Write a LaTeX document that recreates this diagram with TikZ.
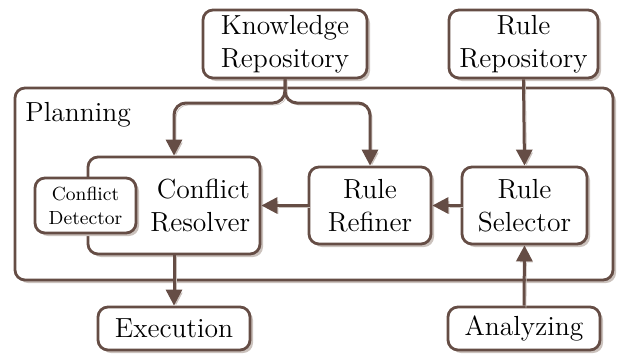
\documentclass[tikz,border=0pt]{standalone}
\usepackage{fontspec}
\setmainfont{Latin Modern Roman}
\usetikzlibrary{arrows.meta,shadows}
\definecolor{boxline}{HTML}{654D45}
\definecolor{shadowcolor}{HTML}{CBC2BD}

\begin{document}
\begin{tikzpicture}[x=0.5pt, y=-0.5pt,
    bigfont/.style={font=\fontsize{13.8}{16.5}\selectfont},
    block/.style={draw=boxline, line width=1.4pt, rounded corners=5pt, fill=white, align=center, inner sep=2pt, bigfont,
        drop shadow={shadow xshift=1.5pt, shadow yshift=-1.5pt, fill=shadowcolor, opacity=1}},
    flow/.style={draw=boxline, line width=1.5pt, -{Triangle[length=8pt,width=8pt]},
        preaction={draw=shadowcolor, transform canvas={shift={(1pt,-1pt)}}}}]
            \useasboundingbox (0,0) rectangle (627,354);

            % Planning frame
            \node[block, minimum width=299pt, minimum height=96pt] (planning) at (314,184) {};
            \node[bigfont, anchor=north west, inner sep=2pt] (planlabel) at (21,98) {Planning};

            % Repositories
            \node[block, minimum width=82pt, minimum height=34pt] (know) at (285,44) {Knowledge\\Repository};
            \node[block, minimum width=74.5pt, minimum height=34pt] (rulerepo) at (523.5,44) {Rule\\Repository};

            % Inside planning
            \node[block, minimum width=86pt, minimum height=48.5pt, text width=76pt, align=right, inner xsep=5pt] (resolver) at (174,205.5) {Conflict\\Resolver};
            \node[block, minimum width=50.5pt, minimum height=27.5pt, font=\fontsize{9.5}{12}\selectfont] (detector) at (85.5,205.5) {Conflict\\Detector};
            \node[block, minimum width=61pt, minimum height=38.5pt] (refiner) at (370,205.5) {Rule\\Refiner};
            \node[block, minimum width=62.5pt, minimum height=38.5pt] (selector) at (524.5,205.5) {Rule\\Selector};

            % Outside
            \node[block, minimum width=76pt, minimum height=21.5pt] (execution) at (174,328.5) {Execution};
            \node[block, minimum width=76pt, minimum height=21.5pt] (analyzing) at (524,328.5) {Analyzing};

            % Connectors
            \coordinate (split) at (285,103);
            \draw[flow, rounded corners=6pt] (know.south) -- (split) -| (resolver.north);
            \draw[flow, rounded corners=6pt] (know.south) -- (split) -| (refiner.north);
            \draw[flow] (rulerepo.south) -- (selector.north);
            \draw[flow] (selector.west) -- (refiner.east);
            \draw[flow] (refiner.west) -- (resolver.east);
            \draw[flow] (resolver.south) -- (execution.north);
            \draw[flow] (analyzing.north) -- (selector.south);
        \end{tikzpicture}
\end{document}
